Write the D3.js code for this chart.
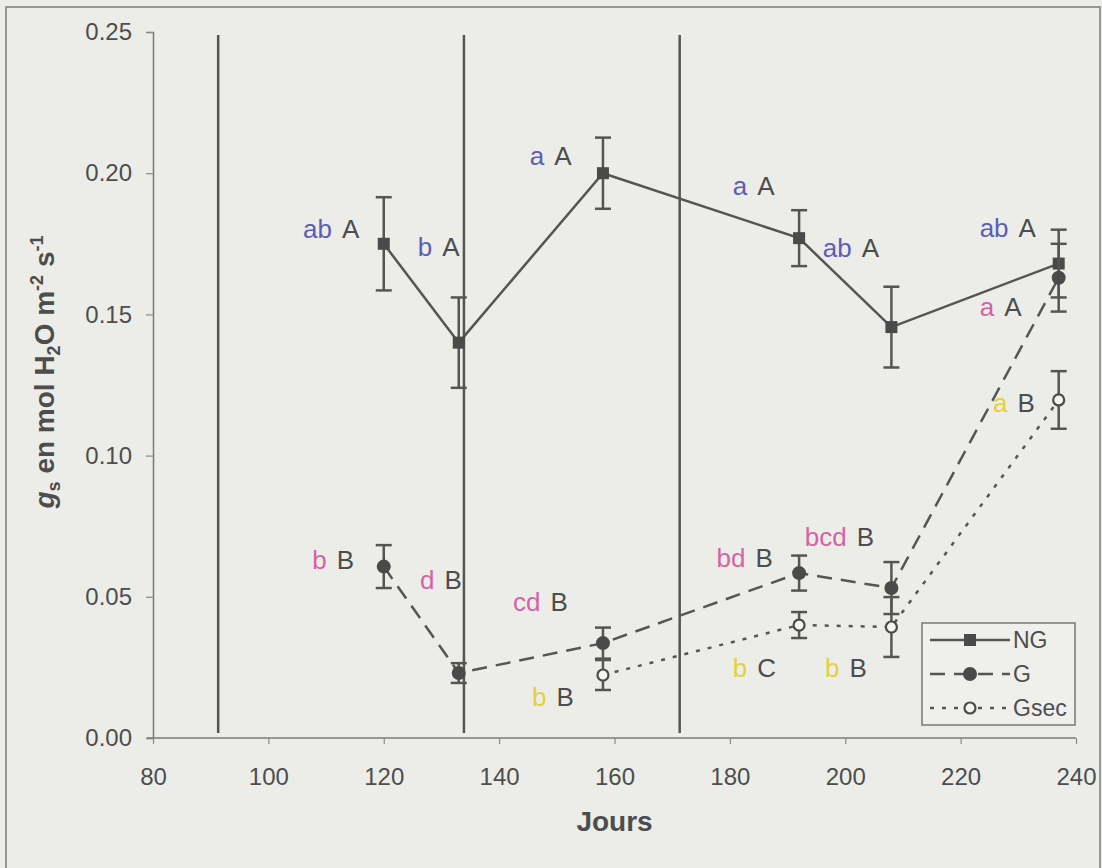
<!DOCTYPE html>
<html>
<head>
<meta charset="utf-8">
<script src="https://cdn.jsdelivr.net/npm/d3@7"></script>
<style>
  body { margin: 0; background: #ecede9; }
  svg { display: block; }
  text { font-family: "Liberation Sans", Arial, sans-serif; fill: #4d4d4d; }
</style>
</head>
<body>
<div class="chart"></div>
<script>
const width = 1102;
const height = 868;

// days of measurement
const daysAll = [120, 133, 158, 192, 208, 237];
const daysGsec = [158, 192, 208, 237];

// gs values (mol H2O m-2 s-1) and standard errors
const ngValues = [0.175, 0.140, 0.200, 0.177, 0.1455, 0.168];
const ngErr = [0.0165, 0.016, 0.0126, 0.0099, 0.0143, 0.012];
const gValues = [0.0607, 0.023, 0.0336, 0.0584, 0.0531, 0.163];
const gErr = [0.0076, 0.0035, 0.0055, 0.0062, 0.0092, 0.012];
const gsecValues = [0.0223, 0.040, 0.0393, 0.1197];
const gsecErr = [0.0053, 0.0046, 0.0106, 0.0102];

// vertical marker lines (days)
const stageDays = [91.3, 133.9, 171.3];

const xTicks = [80, 100, 120, 140, 160, 180, 200, 220, 240];
const yTicks = [0, 0.05, 0.10, 0.15, 0.20, 0.25];

// significance letters: [day, value, lower letters, colour key, upper letter]
const letterLabels = [
  [106.0, 0.177, "ab", "ng", "A"],
  [125.9, 0.1707, "b", "ng", "A"],
  [145.3, 0.2029, "a", "ng", "A"],
  [180.5, 0.1923, "a", "ng", "A"],
  [196.1, 0.1703, "ab", "ng", "A"],
  [223.3, 0.1774, "ab", "ng", "A"],
  [223.3, 0.1494, "a", "g", "A"],
  [225.6, 0.1154, "a", "gsec", "B"],
  [107.6, 0.0598, "b", "g", "B"],
  [126.3, 0.0528, "d", "g", "B"],
  [142.4, 0.0450, "cd", "g", "B"],
  [145.7, 0.0113, "b", "gsec", "B"],
  [177.7, 0.0606, "bd", "g", "B"],
  [180.5, 0.0216, "b", "gsec", "C"],
  [193.0, 0.0680, "bcd", "g", "B"],
  [196.5, 0.0216, "b", "gsec", "B"]
];

const letterColours = { ng: "#5d5db4", g: "#d662a6", gsec: "#e6cf3c" };
const ink = "#4a4a4a";

const x = d3.scaleLinear().domain([80, 240]).range([153, 1076]);
const y = d3.scaleLinear().domain([0, 0.25]).range([738, 32]);

const svg = d3.select(".chart")
  .append("svg")
  .attr("width", width)
  .attr("height", height);

// page frame
svg.append("rect")
  .attr("x", 6).attr("y", 7)
  .attr("width", 1094).attr("height", 880)
  .attr("fill", "none")
  .attr("stroke", "#7a7a7a")
  .attr("stroke-width", 1.5);

// axes
const yAxis = svg.append("g")
  .attr("transform", `translate(${x(80)},0)`)
  .call(d3.axisLeft(y).tickValues(yTicks).tickFormat(d3.format(".2f")).tickSize(7).tickPadding(14));

const xAxis = svg.append("g")
  .attr("transform", `translate(0,${y(0)})`)
  .call(d3.axisBottom(x).tickValues(xTicks).tickSize(6).tickPadding(24));

[xAxis, yAxis].forEach(ax => {
  ax.select(".domain").attr("stroke", "#7a7a7a").attr("stroke-width", 1.5);
  ax.selectAll(".tick line").attr("stroke", "#8a8a8a").attr("stroke-width", 1.2);
  ax.selectAll(".tick text")
    .attr("font-size", "24px")
    .attr("font-family", "Liberation Sans, Arial, sans-serif")
    .attr("fill", ink);
});
xAxis.select(".domain").attr("d", `M${x(80) - 6},0H${x(240)}`);

// stage lines
svg.append("g")
  .selectAll("line")
  .data(stageDays)
  .join("line")
  .attr("x1", d => x(d)).attr("x2", d => x(d))
  .attr("y1", 35).attr("y2", 733)
  .attr("stroke", "#555")
  .attr("stroke-width", 2.5);

const line = d3.line().x(d => x(d[0])).y(d => y(d[1]));

const series = [
  { key: "NG", days: daysAll, values: ngValues, err: ngErr, dash: null, marker: "square" },
  { key: "G", days: daysAll, values: gValues, err: gErr, dash: "15,9", marker: "dot" },
  { key: "Gsec", days: daysGsec, values: gsecValues, err: gsecErr, dash: "4,8", marker: "open" }
];

series.forEach(s => {
  const pts = s.days.map((d, i) => [d, s.values[i], s.err[i]]);
  const g = svg.append("g").attr("class", `series-${s.key}`);

  g.append("path")
    .attr("d", line(pts))
    .attr("fill", "none")
    .attr("stroke", "#555")
    .attr("stroke-width", 2.5)
    .attr("stroke-dasharray", s.dash);

  // error bars
  const eb = g.selectAll(".err").data(pts).join("g").attr("class", "err");
  eb.append("line")
    .attr("x1", d => x(d[0])).attr("x2", d => x(d[0]))
    .attr("y1", d => y(d[1] + d[2])).attr("y2", d => y(d[1] - d[2]))
    .attr("stroke", "#555").attr("stroke-width", 2.5);
  [1, -1].forEach(sign => {
    eb.append("line")
      .attr("x1", d => x(d[0]) - 8).attr("x2", d => x(d[0]) + 8)
      .attr("y1", d => y(d[1] + sign * d[2])).attr("y2", d => y(d[1] + sign * d[2]))
      .attr("stroke", "#555").attr("stroke-width", 2.5);
  });

  drawMarkers(g, pts, s.marker);
});

function drawMarkers(g, pts, type) {
  if (type === "square") {
    g.selectAll(".mk").data(pts).join("rect")
      .attr("x", d => x(d[0]) - 6).attr("y", d => y(d[1]) - 6)
      .attr("width", 12).attr("height", 12)
      .attr("fill", ink);
  } else if (type === "dot") {
    g.selectAll(".mk").data(pts).join("circle")
      .attr("cx", d => x(d[0])).attr("cy", d => y(d[1]))
      .attr("r", 7)
      .attr("fill", ink);
  } else {
    g.selectAll(".mk").data(pts).join("circle")
      .attr("cx", d => x(d[0])).attr("cy", d => y(d[1]))
      .attr("r", 5.5)
      .attr("fill", "#f4f4f2")
      .attr("stroke", ink)
      .attr("stroke-width", 2.2);
  }
}

// significance letters
const lbl = svg.append("g")
  .selectAll("text")
  .data(letterLabels)
  .join("text")
  .attr("x", d => x(d[0]))
  .attr("y", d => y(d[1]))
  .attr("font-size", "26px");
lbl.append("tspan")
  .style("fill", d => letterColours[d[3]])
  .text(d => d[2]);
lbl.append("tspan")
  .attr("dx", 10)
  .text(d => d[4]);

// legend
const legend = svg.append("g").attr("transform", "translate(922,623)");
legend.append("rect")
  .attr("width", 153).attr("height", 102)
  .attr("fill", "#efefec")
  .attr("stroke", "#777")
  .attr("stroke-width", 1.5);

series.forEach((s, i) => {
  const ly = 17 + i * 34;
  const row = legend.append("g");
  row.append("line")
    .attr("x1", 8).attr("x2", 88)
    .attr("y1", ly).attr("y2", ly)
    .attr("stroke", "#555").attr("stroke-width", 2.5)
    .attr("stroke-dasharray", s.dash);
  if (s.marker === "square") {
    row.append("rect").attr("x", 42).attr("y", ly - 6).attr("width", 12).attr("height", 12).attr("fill", ink);
  } else if (s.marker === "dot") {
    row.append("circle").attr("cx", 48).attr("cy", ly).attr("r", 7).attr("fill", ink);
  } else {
    row.append("circle").attr("cx", 48).attr("cy", ly).attr("r", 5.5)
      .attr("fill", "#f4f4f2").attr("stroke", ink).attr("stroke-width", 2.2);
  }
  row.append("text")
    .attr("x", 91).attr("y", ly + 8)
    .attr("font-size", "23px")
    .text(s.key);
});

// axis titles
svg.append("text")
  .attr("x", x(160))
  .attr("y", 831)
  .attr("text-anchor", "middle")
  .attr("font-size", "28px")
  .attr("font-weight", "bold")
  .text("Jours");

const yt = svg.append("text")
  .attr("transform", "translate(54,372) rotate(-90)")
  .attr("text-anchor", "middle")
  .attr("font-size", "28px")
  .attr("font-weight", "bold");
yt.append("tspan").attr("font-style", "italic").text("g");
yt.append("tspan").attr("font-size", "18px").attr("dy", 6).text("s");
yt.append("tspan").attr("dy", -6).text(" en mol H");
yt.append("tspan").attr("font-size", "18px").attr("dy", 6).text("2");
yt.append("tspan").attr("dy", -6).text("O m");
yt.append("tspan").attr("font-size", "18px").attr("dy", -11).text("-2");
yt.append("tspan").attr("dy", 11).text(" s");
yt.append("tspan").attr("font-size", "18px").attr("dy", -11).text("-1");
</script>
</body>
</html>
